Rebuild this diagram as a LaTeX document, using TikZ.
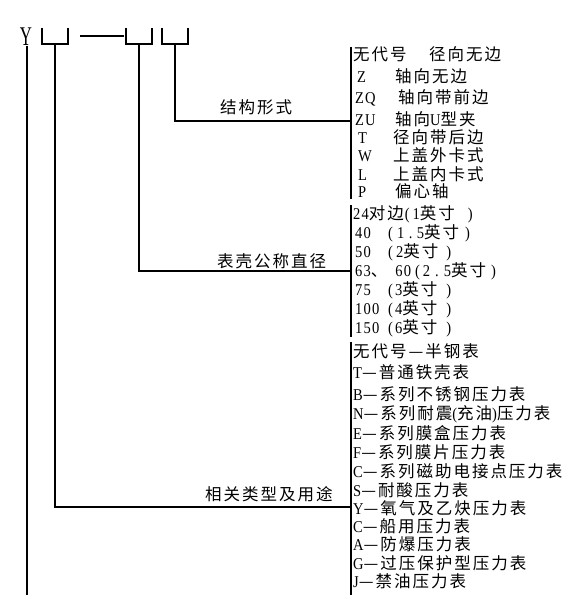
\documentclass[tikz,border=0pt]{standalone}
\usepackage{fontspec}
\setmainfont{Noto Sans CJK SC}[LetterSpace=12]
\newfontfamily\latfont{Liberation Serif}[FakeStretch=0.88,LetterSpace=7]
\newfontfamily\yfont{Liberation Serif}[FakeStretch=0.62]
\newcommand\latn[1]{{\latfont\fontsize{16.5bp}{16.5bp}\selectfont #1}}
\newcommand\dotsp[1]{\hspace{#1}.\hspace{#1}}
\begin{document}
\begin{tikzpicture}[x=1bp,y=-1bp,
  txt/.style={inner sep=0pt, anchor=west, text height=14bp, text depth=2bp,
    font=\fontsize{16.5bp}{16.5bp}\selectfont},
  ln/.style={draw=black, line width=1.2bp}]
\fill[white] (0,0) rectangle (571,595);
\useasboundingbox (0,0) rectangle (571,595);

% code header
\node[inner sep=0pt, anchor=south, text height=18bp, text depth=0pt,
  font=\yfont\fontsize{27bp}{27bp}\selectfont] (Y) at (26,46) {Y};
\coordinate (Ybot) at (27,595);
\coordinate (d1) at (80,36);
\coordinate (d2) at (124,36);
\coordinate (b1) at (55,44);
\coordinate (b2) at (139,44);
\coordinate (b3) at (175,44);
\draw[ln] (42,28) -- (42,44) -- (68,44) -- (68,28);
\draw[ln] (126,28) -- (126,44) -- (152,44) -- (152,28);
\draw[ln] (162,28) -- (162,44) -- (188,44) -- (188,28);
\draw[ln] (d1) -- (d2);
\draw[ln] (27,46) -- (Ybot);

% list bars
\coordinate (l1t) at (351,47);  \coordinate (l1b) at (351,199);
\coordinate (l2t) at (351,205); \coordinate (l2b) at (351,337);
\coordinate (l3t) at (351,342); \coordinate (l3b) at (351,595);
\draw[ln] (l1t) -- (l1b);
\draw[ln] (l2t) -- (l2b);
\draw[ln] (l3t) -- (l3b);
\coordinate (j1) at (351,121);
\coordinate (j2) at (351,271);
\coordinate (j3) at (351,507);
\draw[ln] (b3) |- (j1);
\draw[ln] (b2) |- (j2);
\draw[ln] (b1) |- (j3);

% labels
\node[txt] (lab1) at (220,108) {结构形式};
\node[txt] (lab2) at (217,261) {表壳公称直径};
\node[txt] (lab3) at (205,494) {相关类型及用途};

% list 1
\node[txt] (a1) at (353,55) {\makebox[76bp][l]{无代号}径向无边};
\node[txt] (a2) at (357,77) {\makebox[38bp][l]{\latn{Z}}轴向无边};
\node[txt] (a3) at (355,98) {\makebox[43bp][l]{\latn{ZQ}}轴向带前边};
\node[txt] (a4) at (355,120) {\makebox[40bp][l]{\latn{ZU}}轴向\latn{U}型夹};
\node[txt] (a5) at (358,138) {\makebox[35bp][l]{\latn{T}}径向带后边};
\node[txt] (a6) at (358,156) {\makebox[35bp][l]{\latn{W}}上盖外卡式};
\node[txt] (a7) at (358,174) {\makebox[35bp][l]{\latn{L}}上盖内卡式};
\node[txt] (a8) at (358,191) {\makebox[37bp][l]{\latn{P}}偏心轴};

% list 2
\node[txt] (c1) at (353,213) {\latn{24}对边\hspace{1bp}\latn{(}\hspace{3bp}\latn{1}英寸\hspace{13bp}\latn{)}};
\node[txt] (c2) at (355,232) {\makebox[33bp][l]{\latn{40}}\latn{(}\hspace{4bp}\latn{1\dotsp{4.5bp}5}英寸\hspace{6bp}\latn{)}};
\node[txt] (c3) at (355,251) {\makebox[33bp][l]{\latn{50}}\latn{(}\hspace{3bp}\latn{2}英寸\hspace{8bp}\latn{)}};
\node[txt] (c4) at (355,270) {\latn{63}、\hspace{8bp}\latn{60}\hspace{4bp}\latn{(}\hspace{3bp}\latn{2\dotsp{5bp}5}英寸\hspace{5bp}\latn{)}};
\node[txt] (c5) at (355,289) {\makebox[33bp][l]{\latn{75}}\latn{(}\hspace{2bp}\latn{3}英寸\hspace{9bp}\latn{)}};
\node[txt] (c6) at (355,308) {\makebox[33bp][l]{\latn{100}}\latn{(}\hspace{2bp}\latn{4}英寸\hspace{9bp}\latn{)}};
\node[txt] (c7) at (355,327) {\makebox[33bp][l]{\latn{150}}\latn{(}\hspace{2bp}\latn{6}英寸\hspace{9bp}\latn{)}};

% list 3
\node[txt] (e1) at (353,351) {无代号—半钢表};
\node[txt] (e2) at (353,372) {\latn{T}—普通铁壳表};
\node[txt] (e3) at (353,394) {\latn{B}—系列不锈钢压力表};
\node[txt] (e4) at (353,413) {\latn{N}—系列耐震\latn{(}充油\latn{)}压力表};
\node[txt] (e5) at (353,433) {\latn{E}—系列膜盒压力表};
\node[txt] (e6) at (353,452) {\latn{F}—系列膜片压力表};
\node[txt] (e7) at (353,471) {\latn{C}—系列磁助电接点压力表};
\node[txt] (e8) at (353,490) {\latn{S}—耐酸压力表};
\node[txt] (e9) at (353,508) {\latn{Y}—氧气及乙炔压力表};
\node[txt] (e10) at (353,526) {\latn{C}—船用压力表};
\node[txt] (e11) at (353,544) {\latn{A}—防爆压力表};
\node[txt] (e12) at (353,563) {\latn{G}—过压保护型压力表};
\node[txt] (e13) at (353,581) {\latn{J}—禁油压力表};
\end{tikzpicture}
\end{document}
